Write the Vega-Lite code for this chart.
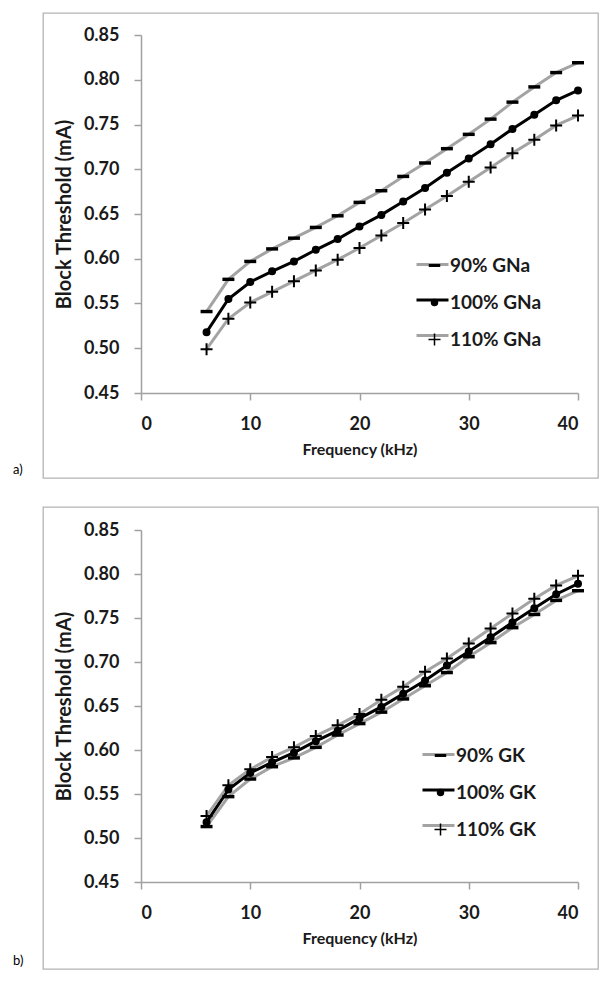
{
  "$schema": "https://vega.github.io/schema/vega-lite/v6.json",
  "padding": {"left": 12, "top": 12, "right": 5, "bottom": 5},
  "background": "white",
  "spacing": 27,
  "resolve": {"scale": {"color": "independent", "shape": "independent"}, "legend": {"color": "independent", "shape": "independent"}},
  "config": {
    "font": "Lato",
    "view": {"stroke": "#b4b4b4", "strokeWidth": 1.3},
    "axis": {"domainColor": "#a0a0a0", "domainWidth": 1.5, "tickColor": "#a0a0a0", "tickWidth": 1.5, "tickSize": 7, "labelPadding": 15, "labelFont": "Lato", "labelFontSize": 18, "labelFontWeight": "bold", "labelColor": "#1a1a1a", "titleFont": "Lato", "titleFontSize": 16, "titleFontWeight": "bold", "titleColor": "#1a1a1a", "grid": false},
    "legend": {"labelFont": "Lato", "labelFontSize": 19, "labelFontWeight": "bold", "labelColor": "#1a1a1a", "padding": 0},
    "title": {"font": "Lato", "fontSize": 13, "fontWeight": "normal", "color": "#000000"}
  },
  "vconcat": [
    {
      "width": 555,
      "height": 465,
      "title": {"text": "a)", "orient": "bottom", "anchor": "start", "dx": -30, "dy": -18},
      "data": {"values": [
        {"series": "90% GNa", "freq": 6, "threshold": 0.541},
        {"series": "90% GNa", "freq": 8, "threshold": 0.577},
        {"series": "90% GNa", "freq": 10, "threshold": 0.597},
        {"series": "90% GNa", "freq": 12, "threshold": 0.611},
        {"series": "90% GNa", "freq": 14, "threshold": 0.623},
        {"series": "90% GNa", "freq": 16, "threshold": 0.635},
        {"series": "90% GNa", "freq": 18, "threshold": 0.648},
        {"series": "90% GNa", "freq": 20, "threshold": 0.663},
        {"series": "90% GNa", "freq": 22, "threshold": 0.676},
        {"series": "90% GNa", "freq": 24, "threshold": 0.692},
        {"series": "90% GNa", "freq": 26, "threshold": 0.707},
        {"series": "90% GNa", "freq": 28, "threshold": 0.723},
        {"series": "90% GNa", "freq": 30, "threshold": 0.739},
        {"series": "90% GNa", "freq": 32, "threshold": 0.756},
        {"series": "90% GNa", "freq": 34, "threshold": 0.775},
        {"series": "90% GNa", "freq": 36, "threshold": 0.792},
        {"series": "90% GNa", "freq": 38, "threshold": 0.808},
        {"series": "90% GNa", "freq": 40, "threshold": 0.819},
        {"series": "100% GNa", "freq": 6, "threshold": 0.518},
        {"series": "100% GNa", "freq": 8, "threshold": 0.555},
        {"series": "100% GNa", "freq": 10, "threshold": 0.574},
        {"series": "100% GNa", "freq": 12, "threshold": 0.586},
        {"series": "100% GNa", "freq": 14, "threshold": 0.597},
        {"series": "100% GNa", "freq": 16, "threshold": 0.610},
        {"series": "100% GNa", "freq": 18, "threshold": 0.622},
        {"series": "100% GNa", "freq": 20, "threshold": 0.636},
        {"series": "100% GNa", "freq": 22, "threshold": 0.649},
        {"series": "100% GNa", "freq": 24, "threshold": 0.664},
        {"series": "100% GNa", "freq": 26, "threshold": 0.679},
        {"series": "100% GNa", "freq": 28, "threshold": 0.696},
        {"series": "100% GNa", "freq": 30, "threshold": 0.712},
        {"series": "100% GNa", "freq": 32, "threshold": 0.728},
        {"series": "100% GNa", "freq": 34, "threshold": 0.745},
        {"series": "100% GNa", "freq": 36, "threshold": 0.761},
        {"series": "100% GNa", "freq": 38, "threshold": 0.777},
        {"series": "100% GNa", "freq": 40, "threshold": 0.788},
        {"series": "110% GNa", "freq": 6, "threshold": 0.499},
        {"series": "110% GNa", "freq": 8, "threshold": 0.533},
        {"series": "110% GNa", "freq": 10, "threshold": 0.551},
        {"series": "110% GNa", "freq": 12, "threshold": 0.563},
        {"series": "110% GNa", "freq": 14, "threshold": 0.575},
        {"series": "110% GNa", "freq": 16, "threshold": 0.587},
        {"series": "110% GNa", "freq": 18, "threshold": 0.599},
        {"series": "110% GNa", "freq": 20, "threshold": 0.612},
        {"series": "110% GNa", "freq": 22, "threshold": 0.626},
        {"series": "110% GNa", "freq": 24, "threshold": 0.640},
        {"series": "110% GNa", "freq": 26, "threshold": 0.655},
        {"series": "110% GNa", "freq": 28, "threshold": 0.670},
        {"series": "110% GNa", "freq": 30, "threshold": 0.686},
        {"series": "110% GNa", "freq": 32, "threshold": 0.702},
        {"series": "110% GNa", "freq": 34, "threshold": 0.718},
        {"series": "110% GNa", "freq": 36, "threshold": 0.733},
        {"series": "110% GNa", "freq": 38, "threshold": 0.749},
        {"series": "110% GNa", "freq": 40, "threshold": 0.760}
      ]},
      "encoding": {
        "x": {"field": "freq", "type": "quantitative", "scale": {"domain": [0, 40], "range": [98, 535]}, "axis": {"offset": -85, "values": [0, 10, 20, 30, 40], "title": "Frequency (kHz)", "titlePadding": 8}},
        "y": {"field": "threshold", "type": "quantitative", "scale": {"domain": [0.45, 0.85], "range": [380, 22], "zero": false}, "axis": {"offset": -98, "values": [0.45, 0.5, 0.55, 0.6, 0.65, 0.7, 0.75, 0.8, 0.85], "format": ".2f", "title": "Block Threshold (mA)", "titleFontSize": 20, "titlePadding": 9}}
      },
      "layer": [
        {
          "mark": {"type": "line", "strokeWidth": 3},
          "encoding": {
            "color": {"field": "series", "type": "nominal", "scale": {"domain": ["90% GNa", "100% GNa", "110% GNa"], "range": ["#a3a3a3", "#000000", "#a3a3a3"]},
              "legend": {"orient": "none", "legendX": 372, "legendY": 234, "title": null, "symbolType": "stroke", "symbolSize": 1024, "symbolStrokeWidth": 3, "labelExpr": "''", "rowPadding": 7.5}}
          }
        },
        {
          "mark": {"type": "point", "filled": true, "size": 144, "color": "#000000", "stroke": "#000000", "strokeWidth": 2, "opacity": 1},
          "encoding": {
            "shape": {"field": "series", "type": "nominal", "sort": ["90% GNa", "100% GNa", "110% GNa"], "scale": {"range": ["M-0.83,-0.12H0.83V0.12H-0.83Z", "M0.5,0A0.5,0.5 0 1,1 -0.5,0A0.5,0.5 0 1,1 0.5,0Z", "M-1,0H1M0,-1V1"]},
              "legend": {"orient": "none", "legendX": 382, "legendY": 243, "title": null, "symbolSize": 144, "labelOffset": 6, "rowPadding": 17,
                "encode": {"symbols": {"update": {"stroke": {"value": "#000000"}, "strokeWidth": {"value": 2}, "fill": {"value": "#000000"}, "opacity": {"value": 1}}}}}}
          }
        }
      ]
    },
    {
      "width": 555,
      "height": 462,
      "title": {"text": "b)", "orient": "bottom", "anchor": "start", "dx": -30, "dy": -18},
      "data": {"values": [
        {"series": "90% GK", "freq": 6, "threshold": 0.513},
        {"series": "90% GK", "freq": 8, "threshold": 0.547},
        {"series": "90% GK", "freq": 10, "threshold": 0.567},
        {"series": "90% GK", "freq": 12, "threshold": 0.581},
        {"series": "90% GK", "freq": 14, "threshold": 0.591},
        {"series": "90% GK", "freq": 16, "threshold": 0.603},
        {"series": "90% GK", "freq": 18, "threshold": 0.617},
        {"series": "90% GK", "freq": 20, "threshold": 0.630},
        {"series": "90% GK", "freq": 22, "threshold": 0.643},
        {"series": "90% GK", "freq": 24, "threshold": 0.658},
        {"series": "90% GK", "freq": 26, "threshold": 0.673},
        {"series": "90% GK", "freq": 28, "threshold": 0.688},
        {"series": "90% GK", "freq": 30, "threshold": 0.706},
        {"series": "90% GK", "freq": 32, "threshold": 0.722},
        {"series": "90% GK", "freq": 34, "threshold": 0.739},
        {"series": "90% GK", "freq": 36, "threshold": 0.754},
        {"series": "90% GK", "freq": 38, "threshold": 0.770},
        {"series": "90% GK", "freq": 40, "threshold": 0.781},
        {"series": "100% GK", "freq": 6, "threshold": 0.518},
        {"series": "100% GK", "freq": 8, "threshold": 0.555},
        {"series": "100% GK", "freq": 10, "threshold": 0.574},
        {"series": "100% GK", "freq": 12, "threshold": 0.586},
        {"series": "100% GK", "freq": 14, "threshold": 0.597},
        {"series": "100% GK", "freq": 16, "threshold": 0.610},
        {"series": "100% GK", "freq": 18, "threshold": 0.622},
        {"series": "100% GK", "freq": 20, "threshold": 0.636},
        {"series": "100% GK", "freq": 22, "threshold": 0.649},
        {"series": "100% GK", "freq": 24, "threshold": 0.664},
        {"series": "100% GK", "freq": 26, "threshold": 0.679},
        {"series": "100% GK", "freq": 28, "threshold": 0.696},
        {"series": "100% GK", "freq": 30, "threshold": 0.712},
        {"series": "100% GK", "freq": 32, "threshold": 0.728},
        {"series": "100% GK", "freq": 34, "threshold": 0.745},
        {"series": "100% GK", "freq": 36, "threshold": 0.761},
        {"series": "100% GK", "freq": 38, "threshold": 0.777},
        {"series": "100% GK", "freq": 40, "threshold": 0.789},
        {"series": "110% GK", "freq": 6, "threshold": 0.525},
        {"series": "110% GK", "freq": 8, "threshold": 0.560},
        {"series": "110% GK", "freq": 10, "threshold": 0.578},
        {"series": "110% GK", "freq": 12, "threshold": 0.592},
        {"series": "110% GK", "freq": 14, "threshold": 0.603},
        {"series": "110% GK", "freq": 16, "threshold": 0.616},
        {"series": "110% GK", "freq": 18, "threshold": 0.628},
        {"series": "110% GK", "freq": 20, "threshold": 0.641},
        {"series": "110% GK", "freq": 22, "threshold": 0.657},
        {"series": "110% GK", "freq": 24, "threshold": 0.672},
        {"series": "110% GK", "freq": 26, "threshold": 0.689},
        {"series": "110% GK", "freq": 28, "threshold": 0.704},
        {"series": "110% GK", "freq": 30, "threshold": 0.721},
        {"series": "110% GK", "freq": 32, "threshold": 0.738},
        {"series": "110% GK", "freq": 34, "threshold": 0.755},
        {"series": "110% GK", "freq": 36, "threshold": 0.772},
        {"series": "110% GK", "freq": 38, "threshold": 0.787},
        {"series": "110% GK", "freq": 40, "threshold": 0.798}
      ]},
      "encoding": {
        "x": {"field": "freq", "type": "quantitative", "scale": {"domain": [0, 40], "range": [98, 535]}, "axis": {"offset": -87, "values": [0, 10, 20, 30, 40], "title": "Frequency (kHz)", "titlePadding": 8}},
        "y": {"field": "threshold", "type": "quantitative", "scale": {"domain": [0.45, 0.85], "range": [375, 23], "zero": false}, "axis": {"offset": -98, "values": [0.45, 0.5, 0.55, 0.6, 0.65, 0.7, 0.75, 0.8, 0.85], "format": ".2f", "title": "Block Threshold (mA)", "titleFontSize": 20, "titlePadding": 9}}
      },
      "layer": [
        {
          "mark": {"type": "line", "strokeWidth": 3},
          "encoding": {
            "color": {"field": "series", "type": "nominal", "scale": {"domain": ["90% GK", "100% GK", "110% GK"], "range": ["#a3a3a3", "#000000", "#a3a3a3"]},
              "legend": {"orient": "none", "legendX": 378, "legendY": 230, "title": null, "symbolType": "stroke", "symbolSize": 1024, "symbolStrokeWidth": 3, "labelExpr": "''", "rowPadding": 7.5}}
          }
        },
        {
          "mark": {"type": "point", "filled": true, "size": 144, "color": "#000000", "stroke": "#000000", "strokeWidth": 2, "opacity": 1},
          "encoding": {
            "shape": {"field": "series", "type": "nominal", "sort": ["90% GK", "100% GK", "110% GK"], "scale": {"range": ["M-0.83,-0.12H0.83V0.12H-0.83Z", "M0.5,0A0.5,0.5 0 1,1 -0.5,0A0.5,0.5 0 1,1 0.5,0Z", "M-1,0H1M0,-1V1"]},
              "legend": {"orient": "none", "legendX": 388, "legendY": 239, "title": null, "symbolSize": 144, "labelOffset": 6, "rowPadding": 17,
                "encode": {"symbols": {"update": {"stroke": {"value": "#000000"}, "strokeWidth": {"value": 2}, "fill": {"value": "#000000"}, "opacity": {"value": 1}}}}}}
          }
        }
      ]
    }
  ]
}
